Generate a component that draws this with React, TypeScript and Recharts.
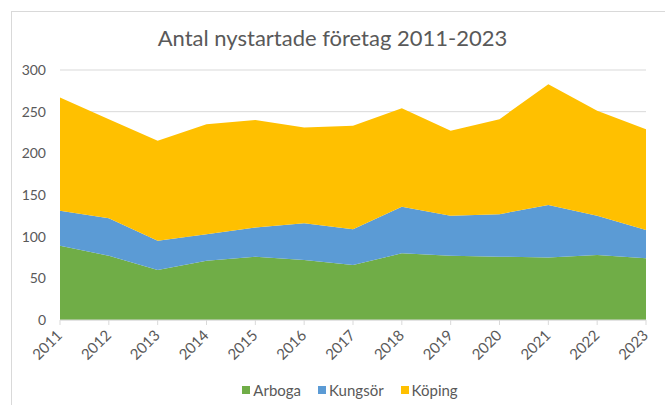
import { AreaChart, Area, XAxis, YAxis, CartesianGrid, Legend } from 'recharts'

const years = ['2011', '2012', '2013', '2014', '2015', '2016', '2017', '2018', '2019', '2020', '2021', '2022', '2023']
const arboga = [89, 77, 60, 71, 76, 72, 66, 80, 77, 76, 75, 78, 74]
const kungsor = [42, 45, 35, 32, 35, 44, 43, 56, 48, 51, 63, 47, 34]
const koping = [136, 119, 120, 132, 129, 115, 124, 118, 102, 114, 145, 126, 121]
const yTicks = [0, 50, 100, 150, 200, 250, 300]

const series = [
  { key: 'Arboga', values: arboga, color: '#70AD47' },
  { key: 'Kungsör', values: kungsor, color: '#5B9BD5' },
  { key: 'Köping', values: koping, color: '#FFC000' },
]

const data = years.map((year, i) => {
  const row: Record<string, string | number> = { year }
  series.forEach(s => { row[s.key] = s.values[i] })
  return row
})

const font = 'Lato, "Noto Sans", sans-serif'
const textColor = '#595959'

function YearTick({ x, y, payload }: any) {
  return (
    <g transform={`translate(${x - 1},${y + 5})`}>
      <text transform="rotate(-45)" textAnchor="end" dominantBaseline="central"
        fontSize={15} fill={textColor} fontFamily={font}>
        {payload.value}
      </text>
    </g>
  )
}

function LegendContent() {
  return (
    <div style={{
      display: 'flex', justifyContent: 'center', gap: 17, paddingTop: 16, paddingLeft: 44,
      fontFamily: font, fontSize: 15, color: textColor,
    }}>
      {series.map(s => (
        <span key={s.key} style={{ display: 'flex', alignItems: 'center', gap: 3 }}>
          <span style={{ width: 8, height: 8, background: s.color, display: 'inline-block' }} />
          {s.key}
        </span>
      ))}
    </div>
  )
}

export default function App() {
  return (
    <div style={{ position: 'absolute', left: 0, top: 0, width: 665, height: 405, background: '#fff', overflow: 'hidden' }}>
      <div style={{ position: 'absolute', left: 11, top: 11, width: 700, height: 450, border: '1px solid #d9d9d9' }} />
      <div style={{
        position: 'absolute', left: 0, top: 24, width: 665, textAlign: 'center',
        fontFamily: font, fontSize: 22, color: textColor,
      }}>
        Antal nystartade företag 2011-2023
      </div>
      <div style={{ position: 'absolute', left: 0, top: 0 }}>
        <AreaChart width={665} height={405} data={data} margin={{ top: 70, right: 19, left: 10, bottom: 20 }}>
          <CartesianGrid vertical={false} stroke="#d9d9d9" />
          <XAxis dataKey="year" tick={<YearTick />} interval={0} height={45}
            stroke="#d9d9d9" tickLine={{ stroke: '#d9d9d9' }} tickSize={5} />
          <YAxis domain={[0, 300]} ticks={yTicks} width={50} axisLine={false} tickLine={false}
            tick={{ fontSize: 14, fill: textColor, fontFamily: font }} tickMargin={8} />
          <Legend content={<LegendContent />} verticalAlign="bottom" height={20} />
          {series.map(s => (
            <Area key={s.key} type="linear" dataKey={s.key} stackId="a" fill={s.color} fillOpacity={1}
              stroke="none" isAnimationActive={false} />
          ))}
        </AreaChart>
      </div>
    </div>
  )
}
